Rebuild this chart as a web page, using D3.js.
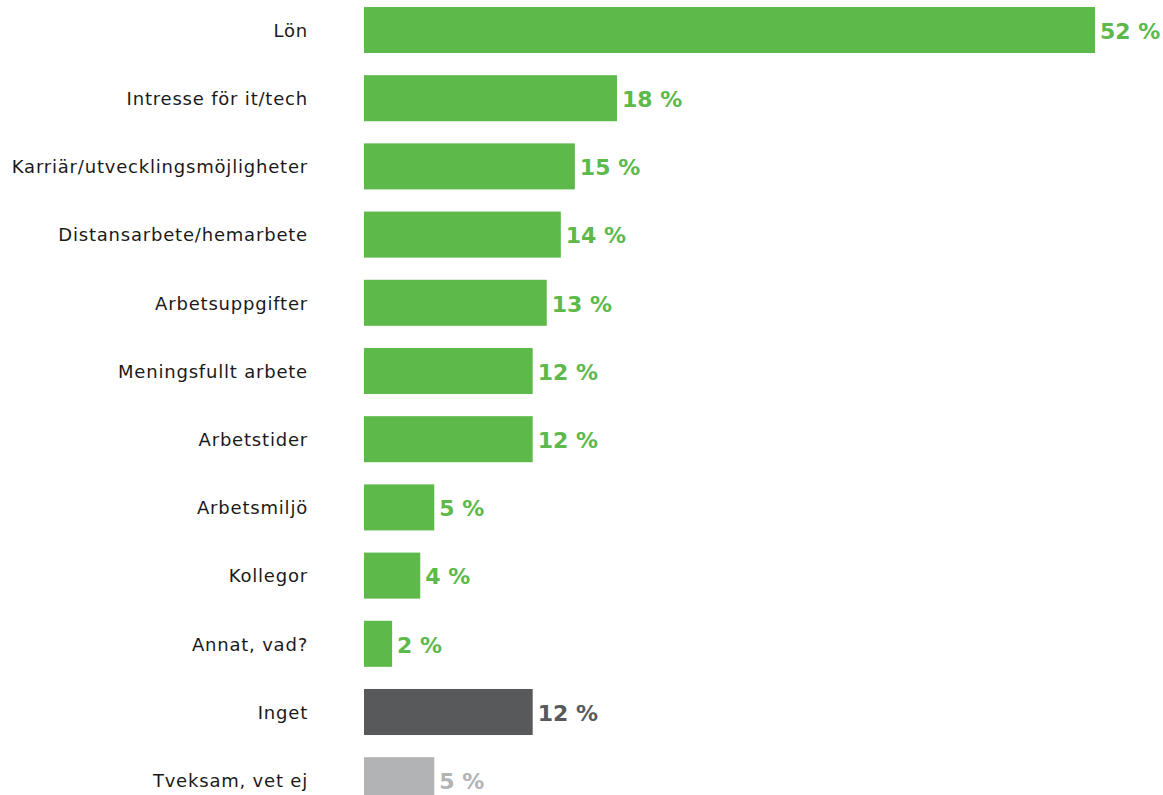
<!DOCTYPE html>
<html><head><meta charset="utf-8">
<script src="https://cdn.jsdelivr.net/npm/d3@7"></script>
<style>body{margin:0;background:#fff;}svg{display:block;}</style>
</head><body>
<svg id="c" width="1163" height="795"></svg>
<script>
const categories = ["Lön","Intresse för it/tech","Karriär/utvecklingsmöjligheter","Distansarbete/hemarbete","Arbetsuppgifter","Meningsfullt arbete","Arbetstider","Arbetsmiljö","Kollegor","Annat, vad?","Inget","Tveksam, vet ej"];
const values = [52,18,15,14,13,12,12,5,4,2,12,5];
const barColors = ["#5cb94a","#5cb94a","#5cb94a","#5cb94a","#5cb94a","#5cb94a","#5cb94a","#5cb94a","#5cb94a","#5cb94a","#58595b","#b1b3b5"];
const labelColors = ["#5cb94a","#5cb94a","#5cb94a","#5cb94a","#5cb94a","#5cb94a","#5cb94a","#5cb94a","#5cb94a","#5cb94a","#58595b","#b1b3b5"];

const svg = d3.select("#c");
const x = d3.scaleLinear().domain([0,52]).range([364,1095]);
const y = d3.scaleBand().domain(categories).range([-4.1, -4.1+68.2*12]).paddingInner(0.325).paddingOuter(0.1625);
const font = "DejaVu Sans, sans-serif";

svg.selectAll("rect.bar").data(categories).join("rect")
  .attr("class","bar")
  .attr("x", x(0))
  .attr("y", d=>y(d))
  .attr("width", (d,i)=>x(values[i])-x(0))
  .attr("height", y.bandwidth())
  .attr("fill", (d,i)=>barColors[i]);

svg.selectAll("text.cat").data(categories).join("text")
  .attr("class","cat")
  .attr("x", 308)
  .attr("y", d=>y(d)+y.bandwidth()/2)
  .attr("dy","0.38em")
  .attr("text-anchor","end")
  .attr("font-family", font)
  .attr("font-size", 18)
  .attr("letter-spacing", "0.8px")
  .attr("fill","#1a1a1a")
  .text(d=>d);

svg.selectAll("text.val").data(categories).join("text")
  .attr("class","val")
  .attr("x", (d,i)=>x(values[i])+5)
  .attr("y", d=>y(d)+y.bandwidth()/2)
  .attr("dy","0.4em")
  .attr("font-family", font)
  .attr("font-weight", 700)
  .attr("font-size", 22)
  .attr("fill", (d,i)=>labelColors[i])
  .text((d,i)=>values[i]+" %");
</script>
</body></html>
